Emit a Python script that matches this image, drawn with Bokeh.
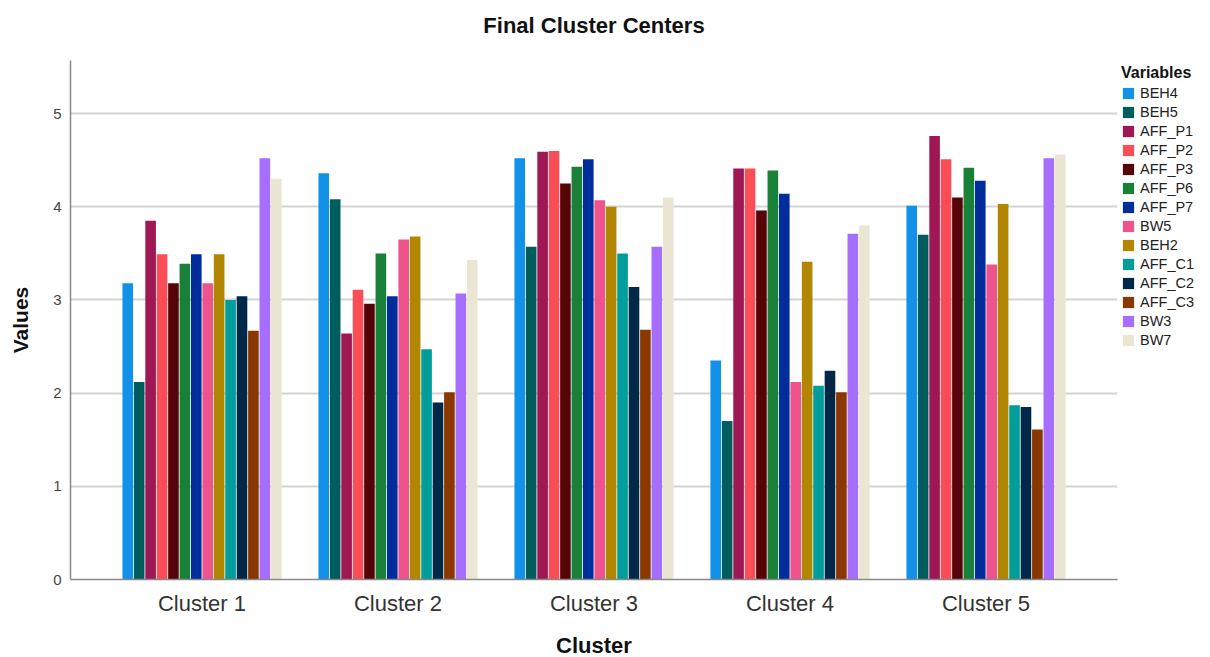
from bokeh.plotting import figure
from bokeh.models import ColumnDataSource, FactorRange, Legend, LegendItem, FixedTicker, Title
from bokeh.transform import dodge
from bokeh.embed import file_html
from bokeh.resources import INLINE

clusters = ["Cluster 1", "Cluster 2", "Cluster 3", "Cluster 4", "Cluster 5"]
variables = ["BEH4", "BEH5", "AFF_P1", "AFF_P2", "AFF_P3", "AFF_P6", "AFF_P7",
             "BW5", "BEH2", "AFF_C1", "AFF_C2", "AFF_C3", "BW3", "BW7"]
colors = ["#1192e8", "#005d5d", "#9f1853", "#fa4d56", "#570408", "#198038", "#002d9c",
          "#ee538b", "#b28600", "#009d9a", "#012749", "#8a3800", "#a56eff", "#ebe6d4"]

BEH4 = [3.18, 4.36, 4.52, 2.35, 4.01]
BEH5 = [2.12, 4.08, 3.57, 1.70, 3.70]
AFF_P1 = [3.85, 2.64, 4.59, 4.41, 4.76]
AFF_P2 = [3.49, 3.11, 4.60, 4.41, 4.51]
AFF_P3 = [3.18, 2.96, 4.25, 3.96, 4.10]
AFF_P6 = [3.39, 3.50, 4.43, 4.39, 4.42]
AFF_P7 = [3.49, 3.04, 4.51, 4.14, 4.28]
BW5 = [3.18, 3.65, 4.07, 2.12, 3.38]
BEH2 = [3.49, 3.68, 4.00, 3.41, 4.03]
AFF_C1 = [3.00, 2.47, 3.50, 2.08, 1.87]
AFF_C2 = [3.04, 1.90, 3.14, 2.24, 1.85]
AFF_C3 = [2.67, 2.01, 2.68, 2.01, 1.61]
BW3 = [4.52, 3.07, 3.57, 3.71, 4.52]
BW7 = [4.30, 3.43, 4.10, 3.80, 4.56]

series = [BEH4, BEH5, AFF_P1, AFF_P2, AFF_P3, AFF_P6, AFF_P7,
          BW5, BEH2, AFF_C1, AFF_C2, AFF_C3, BW3, BW7]
y_ticks = [0, 1, 2, 3, 4, 5]

data = {"cluster": clusters}
for name, vals in zip(variables, series):
    data[name] = vals
source = ColumnDataSource(data)

FONT = "Liberation Sans"

p = figure(x_range=FactorRange(*clusters, range_padding=0.0684),
           y_range=(0, 5.57), frame_width=1047, frame_height=519,
           output_backend="svg", toolbar_location=None,
           min_border_left=70, min_border_right=93, min_border_top=60, min_border_bottom=78)
p.title = None
# spacer (nearest the frame), then the real title above it
p.add_layout(Title(text=" ", text_font_size="2px", standoff=19), "above")
p.add_layout(Title(text="Final Cluster Centers", align="center", text_font=FONT,
                   text_font_size="22px", text_font_style="bold", text_color="#111111",
                   standoff=0), "above")

n = len(variables)
bw = 0.816 / n
items = []
for i, (name, col) in enumerate(zip(variables, colors)):
    off = (i - (n - 1) / 2) * bw
    r = p.vbar(x=dodge("cluster", off, range=p.x_range), top=name, width=bw * 0.93,
               source=source, fill_color=col, line_color=None)
    items.append(LegendItem(label=name, renderers=[r]))

legend = Legend(items=items, location="top_left", title="Variables",
                title_text_font=FONT, title_text_font_size="16px", title_text_font_style="bold",
                title_text_color="#111111", title_standoff=3,
                label_text_font=FONT, label_text_font_size="14.5px", label_text_color="#222222",
                glyph_width=14, glyph_height=14, label_height=14, label_standoff=5,
                spacing=3, padding=6, margin=4, border_line_color=None,
                background_fill_alpha=0)
p.add_layout(legend, "right")

p.xgrid.grid_line_color = None
p.ygrid.grid_line_color = "#d4d4d4"
p.ygrid.grid_line_width = 2
p.ygrid.ticker = FixedTicker(ticks=y_ticks[1:])
p.yaxis.ticker = FixedTicker(ticks=y_ticks)

for ax in (p.xaxis, p.yaxis):
    ax.axis_line_color = "#888888"
    ax.axis_line_width = 1.5
    ax.major_tick_line_color = None
    ax.minor_tick_line_color = None
    ax.major_tick_out = 0
    ax.major_tick_in = 0
    ax.axis_label_text_font = FONT
    ax.axis_label_text_font_style = "bold"
    ax.axis_label_text_color = "#111111"
    ax.major_label_text_font = FONT

p.yaxis.axis_label = "Values"
p.yaxis.axis_label_text_font_size = "21px"
p.yaxis.major_label_text_font_size = "15px"
p.yaxis.major_label_text_color = "#444444"
p.yaxis.major_label_standoff = 9
p.yaxis.axis_label_standoff = 18

p.xaxis.axis_label = "Cluster"
p.xaxis.axis_label_text_font_size = "22px"
p.xaxis.major_label_text_font_size = "22px"
p.xaxis.major_label_text_color = "#333333"
p.xaxis.major_label_standoff = 11
p.xaxis.axis_label_standoff = 14

p.outline_line_color = None

open("out.html", "w").write(file_html(p, INLINE))
